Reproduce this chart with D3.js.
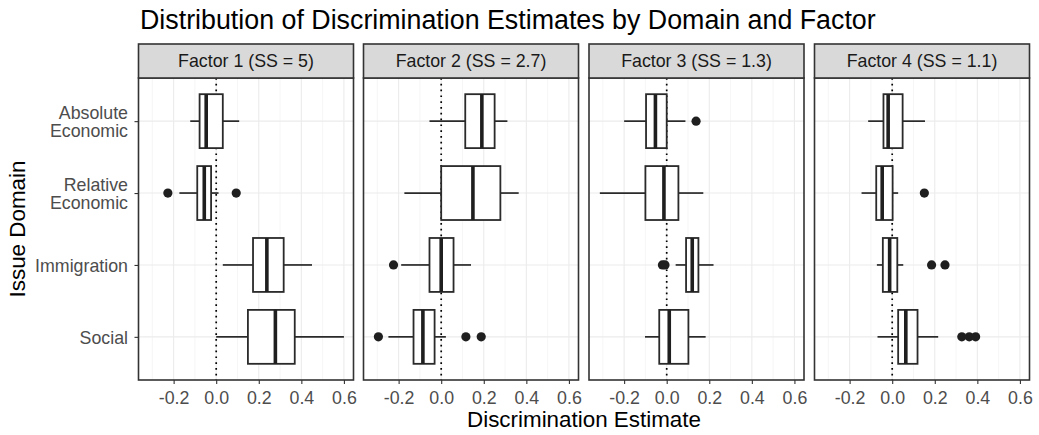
<!DOCTYPE html>
<html><head><meta charset="utf-8">
<script src="https://cdn.jsdelivr.net/npm/d3@7"></script>
<style>body{margin:0;background:#fff}</style>
</head><body>
<svg id="chart" width="1039" height="435"></svg>
<script>
const factors = ["Factor 1 (SS = 5)", "Factor 2 (SS = 2.7)", "Factor 3 (SS = 1.3)", "Factor 4 (SS = 1.1)"];
const domains = ["Absolute Economic", "Relative Economic", "Immigration", "Social"];
const xTicks = [-0.2, 0.0, 0.2, 0.4, 0.6];
const xMinor = [-0.3, -0.1, 0.1, 0.3, 0.5];
// per factor, per domain
const whiskerLo = [[-0.122, -0.173, 0.031, 0.0], [-0.055, -0.173, -0.188, -0.248], [-0.2, -0.314, 0.042, -0.102], [-0.113, -0.144, -0.072, -0.069]];
const q1 = [[-0.078, -0.089, 0.173, 0.149], [0.113, 0.0, -0.055, -0.13], [-0.097, -0.1, 0.091, -0.035], [-0.041, -0.075, -0.044, 0.028]];
const medians = [[-0.047, -0.056, 0.238, 0.278], [0.191, 0.149, 0.0, -0.086], [-0.053, -0.013, 0.12, 0.012], [-0.019, -0.047, -0.012, 0.064]];
const q3 = [[0.031, -0.024, 0.317, 0.369], [0.251, 0.278, 0.058, -0.031], [0.0, 0.055, 0.149, 0.102], [0.049, 0.002, 0.024, 0.119]];
const whiskerHi = [[0.108, 0.011, 0.45, 0.6], [0.311, 0.364, 0.14, 0.022], [0.088, 0.172, 0.22, 0.183], [0.154, 0.028, 0.052, 0.216]];
const outliers = [
  [[], [-0.227, 0.094], [], []],
  [[], [], [-0.224], [-0.295, 0.116, 0.188]],
  [[0.138], [], [-0.02, -0.008], []],
  [[], [0.151], [0.185, 0.248], [0.327, 0.362, 0.392]]
];

const svg = d3.select("#chart");
const font = "'Liberation Sans', Arial, Helvetica, sans-serif";
const panelW = 215, panelTop = 78, panelBot = 380, stripTop = 44;
const panelLefts = [138.5, 363.5, 589, 814.5];
const textSize = 17.8;

// ggplot discrete expansion 0.6 units each side
const yPos = d3.scalePoint().domain(domains).range([panelTop, panelBot]).padding(0.6);
const unit = yPos.step();
const boxH = unit * 0.75;

svg.append("text").attr("x", 140).attr("y", 29).attr("font-family", font).attr("font-size", 26.8)
  .attr("fill", "#000").text("Distribution of Discrimination Estimates by Domain and Factor");

factors.forEach((f, i) => {
  const L = panelLefts[i];
  const x = d3.scaleLinear().domain([-0.365, 0.645]).range([L, L + panelW]);
  const g = svg.append("g");
  // grid
  g.selectAll(".minor").data(xMinor).join("line")
    .attr("x1", d => x(d)).attr("x2", d => x(d)).attr("y1", panelTop).attr("y2", panelBot)
    .attr("stroke", "#f0f0f0").attr("stroke-width", 0.6);
  g.selectAll(".major").data(xTicks).join("line")
    .attr("x1", d => x(d)).attr("x2", d => x(d)).attr("y1", panelTop).attr("y2", panelBot)
    .attr("stroke", "#ebebeb").attr("stroke-width", 1.1);
  g.selectAll(".hgrid").data(domains).join("line")
    .attr("x1", L).attr("x2", L + panelW).attr("y1", d => yPos(d)).attr("y2", d => yPos(d))
    .attr("stroke", "#ebebeb").attr("stroke-width", 1.1);
  // zero line
  g.append("line").attr("x1", x(0)).attr("x2", x(0)).attr("y1", panelTop).attr("y2", panelBot)
    .attr("stroke", "#000").attr("stroke-width", 1.7).attr("stroke-dasharray", "1.7 4.1");
  // boxes
  domains.forEach((d, j) => {
    const cy = yPos(d);
    const bg = g.append("g");
    bg.append("line").attr("x1", x(whiskerLo[i][j])).attr("x2", x(q1[i][j])).attr("y1", cy).attr("y2", cy)
      .attr("stroke", "#2a2a2a").attr("stroke-width", 1.7);
    bg.append("line").attr("x1", x(q3[i][j])).attr("x2", x(whiskerHi[i][j])).attr("y1", cy).attr("y2", cy)
      .attr("stroke", "#2a2a2a").attr("stroke-width", 1.7);
    bg.append("rect").attr("x", x(q1[i][j])).attr("y", cy - boxH / 2)
      .attr("width", x(q3[i][j]) - x(q1[i][j])).attr("height", boxH)
      .attr("fill", "#fff").attr("stroke", "#2a2a2a").attr("stroke-width", 1.8);
    bg.append("line").attr("x1", x(medians[i][j])).attr("x2", x(medians[i][j]))
      .attr("y1", cy - boxH / 2).attr("y2", cy + boxH / 2)
      .attr("stroke", "#1f1f1f").attr("stroke-width", 3.6);
    bg.selectAll("circle").data(outliers[i][j]).join("circle")
      .attr("cx", v => x(v)).attr("cy", cy).attr("r", 4.6).attr("fill", "#1f1f1f");
  });
  // border
  g.append("rect").attr("x", L).attr("y", panelTop).attr("width", panelW).attr("height", panelBot - panelTop)
    .attr("fill", "none").attr("stroke", "#333").attr("stroke-width", 1.6);
  // strip
  g.append("rect").attr("x", L).attr("y", stripTop).attr("width", panelW).attr("height", panelTop - stripTop)
    .attr("fill", "#d9d9d9").attr("stroke", "#333").attr("stroke-width", 1.6);
  g.append("text").attr("x", L + panelW / 2).attr("y", (stripTop + panelTop) / 2 + 6.4)
    .attr("text-anchor", "middle").attr("font-family", font).attr("font-size", textSize).attr("fill", "#1a1a1a").text(f);
  // x axis
  const ax = svg.append("g").attr("transform", `translate(0,${panelBot})`)
    .call(d3.axisBottom(x).tickValues(xTicks).tickFormat(d3.format(".1f")).tickSize(4).tickPadding(7));
  ax.select(".domain").remove();
  ax.selectAll(".tick line").attr("stroke", "#333").attr("stroke-width", 1.1);
  ax.selectAll(".tick text").attr("font-family", font).attr("font-size", textSize).attr("fill", "#4d4d4d")
    .text(d => d3.format(".1f")(d).replace("−", "-"));
});

// y axis on first panel
const yAxis = svg.append("g").attr("transform", `translate(${panelLefts[0]},0)`)
  .call(d3.axisLeft(yPos).tickSize(4).tickPadding(3).tickFormat(""));
yAxis.select(".domain").remove();
yAxis.selectAll(".tick line").attr("stroke", "#333").attr("stroke-width", 1.1);
yAxis.selectAll(".tick").each(function(d) {
  const words = d.split(" ");
  const t = d3.select(this).append("text").attr("x", -10.5).attr("text-anchor", "end")
    .attr("font-family", font).attr("font-size", textSize).attr("fill", "#4d4d4d");
  const lh = 18.5;
  const start = -(words.length - 1) * lh / 2 + 6.3;
  words.forEach((w, k) => t.append("tspan").attr("x", -10.5).attr("y", start + k * lh).text(w));
});

svg.append("text").attr("x", (panelLefts[0] + panelLefts[3] + panelW) / 2).attr("y", 427)
  .attr("text-anchor", "middle").attr("font-family", font).attr("font-size", 22.4).attr("fill", "#000")
  .text("Discrimination Estimate");
svg.append("text").attr("transform", `translate(25,${(panelTop + panelBot) / 2}) rotate(-90)`)
  .attr("text-anchor", "middle").attr("font-family", font).attr("font-size", 22.4).attr("fill", "#000")
  .text("Issue Domain");
</script>
</body></html>
